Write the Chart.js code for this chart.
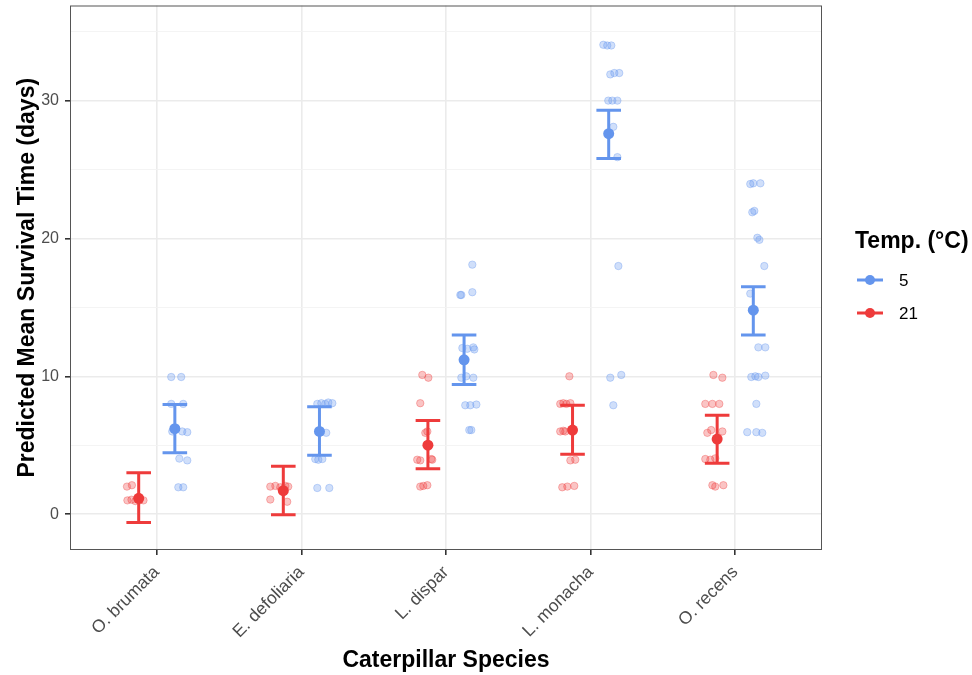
<!DOCTYPE html>
<html>
<head>
<meta charset="utf-8">
<script src="https://cdn.jsdelivr.net/npm/chart.js@4.4.0/dist/chart.umd.min.js"></script>
<style>
  html, body { margin: 0; padding: 0; background: #fff; }
</style>
</head>
<body>
<canvas id="survivalChart" width="972" height="675"></canvas>
<script>
const species = ['O. brumata', 'E. defoliaria', 'L. dispar', 'L. monacha', 'O. recens'];
const temps = ['5', '21'];
const yTicks = [0, 10, 20, 30];
const yMinorTicks = [5, 15, 25, 35];

// predicted means + confidence limits (one per species)
const mean5 = [6.2, 6.0, 11.2, 27.6, 14.8];
const lower5 = [4.45, 4.27, 9.4, 25.8, 13.0];
const upper5 = [7.95, 7.8, 13.0, 29.3, 16.5];
const mean21 = [1.15, 1.7, 5.0, 6.1, 5.45];
const lower21 = [-0.6, -0.05, 3.3, 4.35, 3.7];
const upper21 = [3.0, 3.48, 6.8, 7.9, 7.17];

// raw observations, x already jittered around the species position
const obs5X = [1.100, 1.169, 1.100, 1.183, 1.107, 1.176, 1.211, 1.156, 1.211, 1.149, 1.183,
    2.110, 2.138, 2.165, 2.186, 2.214, 2.172, 2.096, 2.117, 2.145, 2.110, 2.193,
    3.182, 3.099, 3.106, 3.182, 3.113, 3.147, 3.189, 3.196, 3.106, 3.140, 3.189, 3.133, 3.168, 3.210, 3.161, 3.175,
    4.088, 4.115, 4.143, 4.136, 4.164, 4.198, 4.122, 4.150, 4.185, 4.157, 4.185, 4.192, 4.136, 4.212, 4.157,
    5.104, 5.125, 5.174, 5.118, 5.132, 5.153, 5.167, 5.201, 5.104, 5.160, 5.208, 5.111, 5.139, 5.160, 5.208, 5.146, 5.083, 5.146, 5.187];
const obs5Y = [9.95, 9.95, 8.0, 8.0, 6.0, 6.0, 5.95, 4.03, 3.9, 1.95, 1.95,
    8.0, 8.05, 8.0, 8.1, 8.05, 5.9, 4.0, 3.95, 4.0, 1.9, 1.9,
    18.1, 15.9, 15.9, 16.1, 12.05, 12.0, 12.1, 11.95, 9.9, 10.0, 9.9, 7.9, 7.9, 7.95, 6.1, 6.1,
    34.05, 34.0, 34.0, 31.9, 32.0, 32.0, 30.0, 30.0, 30.0, 28.1, 25.9, 18.0, 9.9, 10.1, 7.9,
    23.95, 24.0, 24.0, 21.9, 22.0, 20.05, 19.9, 18.0, 16.0, 12.1, 12.1, 9.95, 10.0, 9.95, 10.05, 8.0, 5.95, 5.95, 5.9];
const obs21X = [0.794, 0.828, 0.797, 0.825, 0.852, 0.880, 0.908,
    1.785, 1.820, 1.854, 1.889, 1.909, 1.785, 1.902,
    2.836, 2.878, 2.822, 2.857, 2.871, 2.801, 2.822, 2.898, 2.905, 2.822, 2.843, 2.871,
    3.853, 3.790, 3.811, 3.832, 3.860, 3.790, 3.811, 3.825, 3.860, 3.894, 3.804, 3.839, 3.887,
    4.849, 4.911, 4.793, 4.842, 4.890, 4.807, 4.834, 4.911, 4.793, 4.828, 4.862, 4.842, 4.862, 4.918];
const obs21Y = [2.0, 2.1, 1.0, 1.05, 0.95, 1.0, 1.0,
    2.0, 2.05, 1.95, 2.05, 2.0, 1.06, 0.9,
    10.1, 9.9, 8.05, 5.9, 6.0, 3.95, 3.9, 4.0, 3.95, 2.0, 2.05, 2.1,
    10.0, 8.0, 8.05, 8.0, 8.05, 6.0, 6.05, 6.0, 3.9, 3.95, 1.95, 2.0, 2.05,
    10.1, 9.9, 8.0, 8.0, 8.0, 5.9, 6.1, 6.0, 4.0, 3.95, 4.05, 2.1, 2.0, 2.1];

const blue = '#6495ED';
const red = '#EE3B3B';
const dodge = 0.125;
const capHalf = 0.085;
const fontFam = '"Liberation Sans", Arial, sans-serif';

function toPoints(xs, ys) {
    return xs.map((x, i) => ({ x: x, y: ys[i] }));
}

function meanPoints(means, lo, hi, shift) {
    return means.map((m, i) => ({ x: i + 1 + shift, y: m, lo: lo[i], hi: hi[i] }));
}

const errorBars = {
    id: 'errorBars',
    afterDatasetsDraw(chart) {
        const ctx = chart.ctx;
        const xs = chart.scales.x;
        const ys = chart.scales.y;
        chart.data.datasets.forEach(ds => {
            if (!ds.isMean) return;
            ctx.save();
            ctx.strokeStyle = ds.borderColor;
            ctx.lineWidth = 3;
            ds.data.forEach(p => {
                const x = xs.getPixelForValue(p.x);
                const x0 = xs.getPixelForValue(p.x - capHalf);
                const x1 = xs.getPixelForValue(p.x + capHalf);
                const yl = ys.getPixelForValue(p.lo);
                const yh = ys.getPixelForValue(p.hi);
                ctx.beginPath();
                ctx.moveTo(x, yl); ctx.lineTo(x, yh);
                ctx.moveTo(x0, yl); ctx.lineTo(x1, yl);
                ctx.moveTo(x0, yh); ctx.lineTo(x1, yh);
                ctx.stroke();
            });
            ctx.restore();
        });
    }
};

const panelBorder = {
    id: 'panelBorder',
    afterDraw(chart) {
        const a = chart.chartArea;
        const ctx = chart.ctx;
        ctx.save();
        ctx.strokeStyle = '#555555';
        ctx.lineWidth = 1;
        ctx.strokeRect(a.left + 0.5, a.top + 0.5, a.right - a.left - 1, a.bottom - a.top - 1);
        ctx.restore();
    }
};

const sideLegend = {
    id: 'sideLegend',
    afterDraw(chart) {
        const ctx = chart.ctx;
        const left = chart.chartArea.right + 33;
        ctx.save();
        ctx.fillStyle = '#000';
        ctx.textBaseline = 'middle';
        ctx.font = 'bold 23px ' + fontFam;
        ctx.fillText('Temp. (°C)', left, 242);
        const colors = [blue, red];
        temps.forEach((t, i) => {
            const y = 280 + i * 33;
            ctx.strokeStyle = colors[i];
            ctx.fillStyle = colors[i];
            ctx.lineWidth = 3;
            ctx.beginPath();
            ctx.moveTo(left + 2, y); ctx.lineTo(left + 28, y);
            ctx.stroke();
            ctx.beginPath();
            ctx.arc(left + 15, y, 5, 0, Math.PI * 2);
            ctx.fill();
            ctx.fillStyle = '#000';
            ctx.font = '17px ' + fontFam;
            ctx.fillText(t, left + 44, y + 1);
        });
        ctx.restore();
    }
};

const config = {
    type: 'scatter',
    data: {
        datasets: [
            {
                label: temps[0] + ' mean', isMean: true,
                data: meanPoints(mean5, lower5, upper5, dodge),
                backgroundColor: blue, borderColor: blue, pointRadius: 5.5, borderWidth: 0
            },
            {
                label: temps[1] + ' mean', isMean: true,
                data: meanPoints(mean21, lower21, upper21, -dodge),
                backgroundColor: red, borderColor: red, pointRadius: 5.5, borderWidth: 0
            },
            {
                label: temps[0],
                data: toPoints(obs5X, obs5Y),
                backgroundColor: 'rgba(100,149,237,0.3)', borderColor: 'rgba(100,149,237,0.35)',
                pointRadius: 3.7, borderWidth: 1
            },
            {
                label: temps[1],
                data: toPoints(obs21X, obs21Y),
                backgroundColor: 'rgba(238,59,59,0.3)', borderColor: 'rgba(238,59,59,0.35)',
                pointRadius: 3.7, borderWidth: 1
            }
        ]
    },
    options: {
        responsive: false,
        animation: false,
        layout: { padding: { left: 0, top: 5, right: 150, bottom: 0 } },
        plugins: { legend: { display: false }, tooltip: { enabled: false } },
        scales: {
            x: {
                type: 'linear', min: 0.4, max: 5.6,
                afterBuildTicks: axis => { axis.ticks = species.map((s, i) => ({ value: i + 1 })); },
                afterFit: s => { s.height = 125; },
                ticks: {
                    autoSkip: false, maxRotation: 45, minRotation: 45, padding: 7,
                    color: '#4d4d4d', font: { size: 17.5, family: fontFam },
                    callback: v => species[v - 1]
                },
                grid: { color: '#ebebeb', lineWidth: 1.6, tickColor: '#333333', tickLength: 5 },
                border: { display: false },
                title: {
                    display: true, text: 'Caterpillar Species', color: '#000',
                    font: { size: 23, weight: 'bold', family: fontFam }, padding: { top: 0, bottom: 1 }
                }
            },
            y: {
                type: 'linear', min: -2.6, max: 36.9,
                afterBuildTicks: axis => {
                    axis.ticks = yTicks.concat(yMinorTicks).sort((a, b) => a - b).map(v => ({ value: v }));
                },
                afterFit: s => { s.width = 70; s.paddingTop = 0; s.paddingBottom = 0; },
                ticks: {
                    padding: 6, color: '#4d4d4d', font: { size: 16, family: fontFam },
                    callback: v => yTicks.includes(v) ? String(v) : ''
                },
                grid: {
                    color: c => yTicks.includes(c.tick.value) ? '#ebebeb' : '#f3f3f3',
                    lineWidth: c => yTicks.includes(c.tick.value) ? 1.6 : 0.9,
                    tickColor: c => yTicks.includes(c.tick.value) ? '#333333' : 'rgba(0,0,0,0)',
                    tickLength: 5
                },
                border: { display: false },
                title: {
                    display: true, text: 'Predicted Mean Survival Time (days)', color: '#000',
                    font: { size: 23, weight: 'bold', family: fontFam }, padding: { top: 14, bottom: 0 }
                }
            }
        }
    },
    plugins: [errorBars, panelBorder, sideLegend]
};

new Chart(document.getElementById('survivalChart').getContext('2d'), config);
</script>
</body>
</html>
